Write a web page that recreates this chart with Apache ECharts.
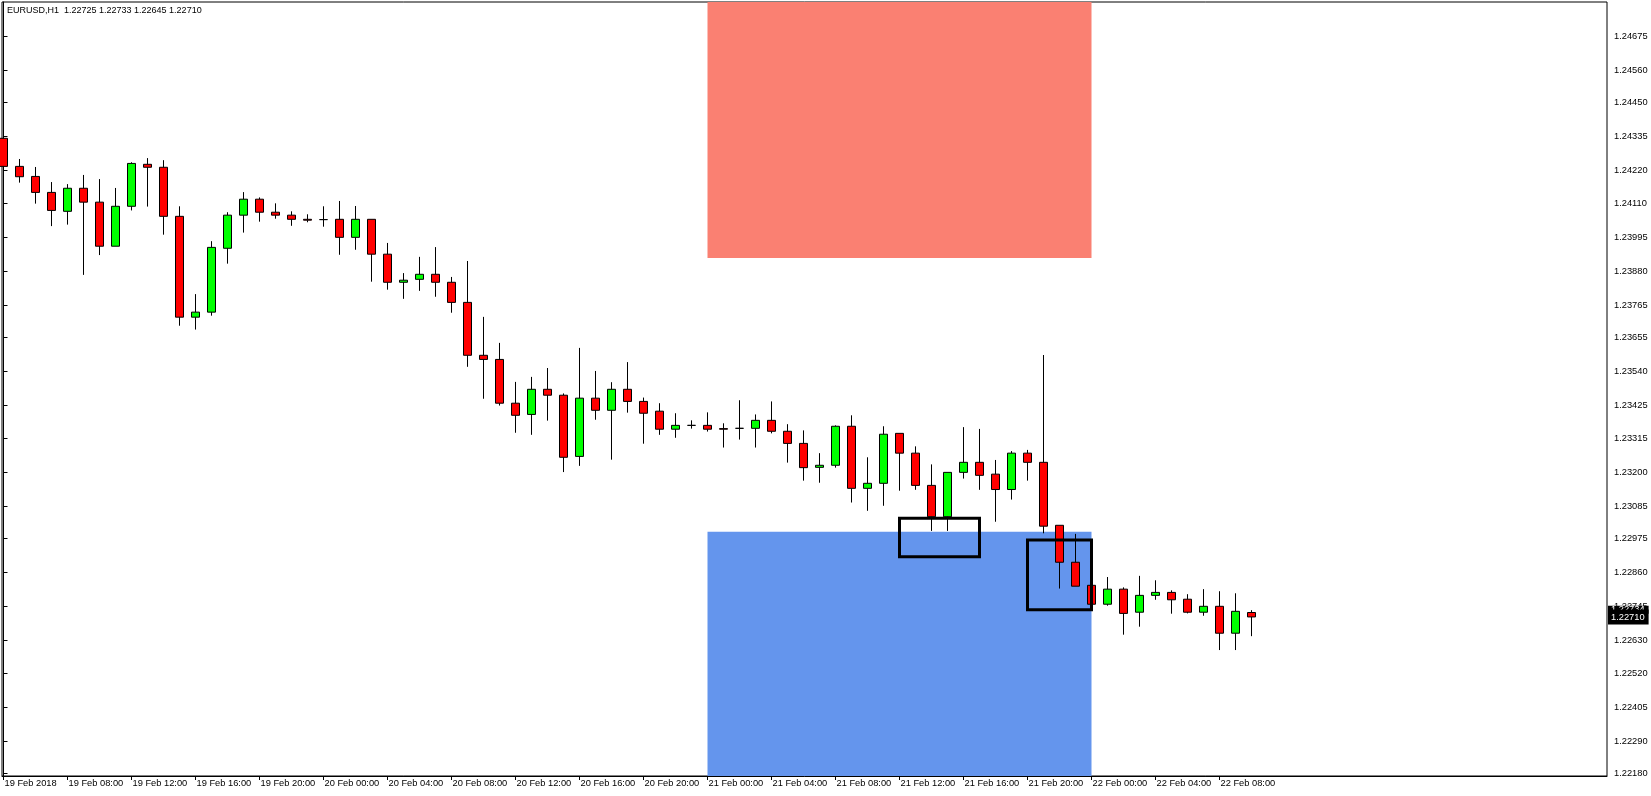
<!DOCTYPE html>
<html><head><meta charset="utf-8">
<script src="https://cdn.jsdelivr.net/npm/echarts@6/dist/echarts.min.js"></script>
<style>html,body{margin:0;padding:0;background:#fff}#c{width:1651px;height:796px}</style>
</head><body><div id="c"></div>
<script>
const symbol = 'EURUSD,H1';
// x tick labels, one every 4 hourly bars (bar 0 = 19 Feb 04:00)
const xTickLabels = ['19 Feb 2018','19 Feb 08:00','19 Feb 12:00','19 Feb 16:00','19 Feb 20:00',
  '20 Feb 00:00','20 Feb 04:00','20 Feb 08:00','20 Feb 12:00','20 Feb 16:00','20 Feb 20:00',
  '21 Feb 00:00','21 Feb 04:00','21 Feb 08:00','21 Feb 12:00','21 Feb 16:00','21 Feb 20:00',
  '22 Feb 00:00','22 Feb 04:00','22 Feb 08:00'];
const yTickLabels = ['1.22180','1.22290','1.22405','1.22520','1.22630','1.22745','1.22860','1.22975',
  '1.23085','1.23200','1.23315','1.23425','1.23540','1.23655','1.23765','1.23880','1.23995',
  '1.24110','1.24220','1.24335','1.24450','1.24560','1.24675'];
const yMin = 1.22172, yMax = 1.24790;

const open = [1.24329,1.24234,1.24200,1.24146,1.24082,1.24160,1.24113,1.23964,1.24099,1.24241,
  1.24231,1.24065,1.23724,1.23741,1.23957,1.24069,1.24123,1.24079,1.24069,1.24055,
  1.24054,1.24055,1.23994,1.24055,1.23937,1.23842,1.23852,1.23869,1.23842,1.23774,
  1.23595,1.23581,1.23433,1.23395,1.23480,1.23460,1.23253,1.23450,1.23409,1.23480,
  1.23439,1.23406,1.23345,1.23358,1.23358,1.23347,1.23348,1.23348,1.23375,1.23338,
  1.23297,1.23216,1.23223,1.23355,1.23145,1.23162,1.23331,1.23264,1.23155,1.23049,
  1.23199,1.23233,1.23193,1.23141,1.23264,1.23233,1.23020,1.22895,1.22817,1.22753,
  1.22804,1.22726,1.22783,1.22793,1.22770,1.22726,1.22746,1.22655,1.22725];
const high = [1.24333,1.24259,1.24232,1.24181,1.24174,1.24205,1.24191,1.24161,1.24248,1.24262,
  1.24255,1.24099,1.23802,1.23981,1.24079,1.24147,1.24129,1.24109,1.24082,1.24072,
  1.24099,1.24117,1.24100,1.24055,1.23975,1.23873,1.23928,1.23961,1.23860,1.23914,
  1.23725,1.23637,1.23505,1.23522,1.23552,1.23466,1.23620,1.23542,1.23504,1.23572,
  1.23452,1.23433,1.23399,1.23375,1.23402,1.23365,1.23443,1.23395,1.23439,1.23362,
  1.23341,1.23264,1.23358,1.23392,1.23250,1.23355,1.23331,1.23287,1.23226,1.23199,
  1.23352,1.23346,1.23241,1.23271,1.23275,1.23596,1.23020,1.22991,1.22821,1.22845,
  1.22810,1.22849,1.22834,1.22800,1.22787,1.22804,1.22797,1.22790,1.22733];
const low = [1.24232,1.24179,1.24108,1.24032,1.24037,1.23867,1.23934,1.23964,1.24085,1.24098,
  1.24003,1.23695,1.23682,1.23729,1.23905,1.24010,1.24047,1.24057,1.24033,1.24045,
  1.24030,1.23935,1.23952,1.23844,1.23817,1.23786,1.23813,1.23793,1.23739,1.23556,
  1.23448,1.23425,1.23333,1.23326,1.23374,1.23200,1.23221,1.23377,1.23242,1.23401,
  1.23296,1.23326,1.23316,1.23347,1.23337,1.23283,1.23310,1.23283,1.23331,1.23232,
  1.23171,1.23164,1.23215,1.23097,1.23069,1.23086,1.23137,1.23140,1.23001,1.23001,
  1.23178,1.23140,1.23032,1.23107,1.23171,1.22993,1.22806,1.22814,1.22749,1.22748,
  1.22650,1.22677,1.22768,1.22721,1.22722,1.22714,1.22598,1.22598,1.22645];
const close = [1.24234,1.24199,1.24146,1.24085,1.24160,1.24113,1.23964,1.24099,1.24244,1.24231,
  1.24065,1.23724,1.23741,1.23960,1.24069,1.24123,1.24079,1.24069,1.24055,1.24052,
  1.24054,1.23994,1.24055,1.23937,1.23842,1.23849,1.23869,1.23842,1.23774,1.23595,
  1.23581,1.23433,1.23392,1.23480,1.23460,1.23250,1.23450,1.23409,1.23480,1.23439,
  1.23399,1.23345,1.23358,1.23358,1.23345,1.23345,1.23348,1.23375,1.23338,1.23297,
  1.23215,1.23223,1.23355,1.23145,1.23162,1.23328,1.23264,1.23155,1.23049,1.23199,
  1.23233,1.23189,1.23141,1.23264,1.23233,1.23017,1.22895,1.22814,1.22753,1.22804,
  1.22722,1.22783,1.22793,1.22768,1.22726,1.22746,1.22655,1.22729,1.22710];
const askPrice = 1.22734;

// zones: [startBar, endBar, priceA, priceB]
const sellZone = [44, 68, yMax, 1.23924];
const buyZone  = [44, 68, 1.22998, yMin];
const box1 = [56, 61, 1.23044, 1.22914];
const box2 = [64, 68, 1.22970, 1.22734];

const FONT = 'Liberation Sans';
const FS = 9.3;
const barsPerTick = 4;
const xTickIdx = xTickLabels.map((_, i) => i * barsPerTick);
const xMin = -0.09375, xMax = 100.21875;

const candles = open.map((o, i) => [i, o, close[i], low[i], high[i]]);
const last = open.length - 1;
const title = symbol + '  ' + [open[last], high[last], low[last], close[last]].map(v => v.toFixed(5)).join(' ');

const zoneArea = (z, fill) => [{xAxis: z[0], yAxis: z[2], itemStyle: fill}, {xAxis: z[1], yAxis: z[3]}];
const tag = (v, pad, lh) => ({yAxis: v, label: {padding: pad, lineHeight: lh}});

const chart = echarts.init(document.getElementById('c'), null, {renderer: 'canvas'});
chart.setOption({
  animation: false,
  backgroundColor: '#fff',
  title: {text: title, left: 7, top: 6, padding: 0,
    textStyle: {fontSize: 9, fontWeight: 'normal', color: '#000', fontFamily: FONT}},
  grid: {left: 2, top: 2, right: 44, bottom: 20, show: true, borderColor: '#000', borderWidth: 1, backgroundColor: '#fff'},
  xAxis: {type: 'value', min: xMin, max: xMax, splitLine: {show: false},
    axisLine: {show: true, onZero: false, lineStyle: {color: '#000', width: 1}},
    axisTick: {show: true, customValues: xTickIdx, length: 4, lineStyle: {color: '#000'}},
    axisLabel: {customValues: xTickIdx, formatter: v => xTickLabels[Math.round(v / barsPerTick)],
      align: 'left', margin: 3, padding: [0, 0, 0, 1], color: '#000', fontSize: FS, fontFamily: FONT}},
  yAxis: {type: 'value', position: 'right', min: yMin, max: yMax, scale: true, splitLine: {show: false},
    axisLine: {show: true, lineStyle: {color: '#000', width: 1}},
    axisTick: {show: true, customValues: yTickLabels.map(Number), length: 4, lineStyle: {color: '#000'}},
    axisLabel: {customValues: yTickLabels.map(Number), formatter: v => v.toFixed(5),
      margin: 7, color: '#000', fontSize: FS, fontFamily: FONT}},
  series: [
    {type: 'line', data: [], silent: true, clip: false,
      markArea: {silent: true, z: 1, data: [
        zoneArea(sellZone, {color: '#fa8072'}),
        zoneArea(buyZone, {color: '#6495ed'})]}},
    {type: 'candlestick', data: candles, barWidth: 9, z: 2, silent: true,
      itemStyle: {color: '#00ff00', color0: '#ff0000', borderColor: '#000', borderColor0: '#000', borderWidth: 1}},
    {type: 'line', data: [], silent: true, clip: false,
      markArea: {silent: true, z: 4, itemStyle: {color: 'rgba(0,0,0,0)', borderColor: '#000', borderWidth: 3},
        data: [zoneArea(box1), zoneArea(box2)]}},
    {type: 'line', data: [], silent: true, clip: false, z: 8,
      markLine: {silent: true, z: 8, symbol: ['none', 'none'], precision: 5,
        lineStyle: {color: 'rgba(0,0,0,0)', width: 0},
        label: {show: true, position: 'end', distance: 1, formatter: p => Number(p.value).toFixed(5),
          backgroundColor: '#000', color: '#fff', padding: [1, 4, 1, 3], fontSize: FS, fontFamily: FONT},
        data: [tag(askPrice, [0, 4, 0, 3], 8), tag(close[last], [2, 4, 2, 3], 11)]}}
  ]
});
</script></body></html>
